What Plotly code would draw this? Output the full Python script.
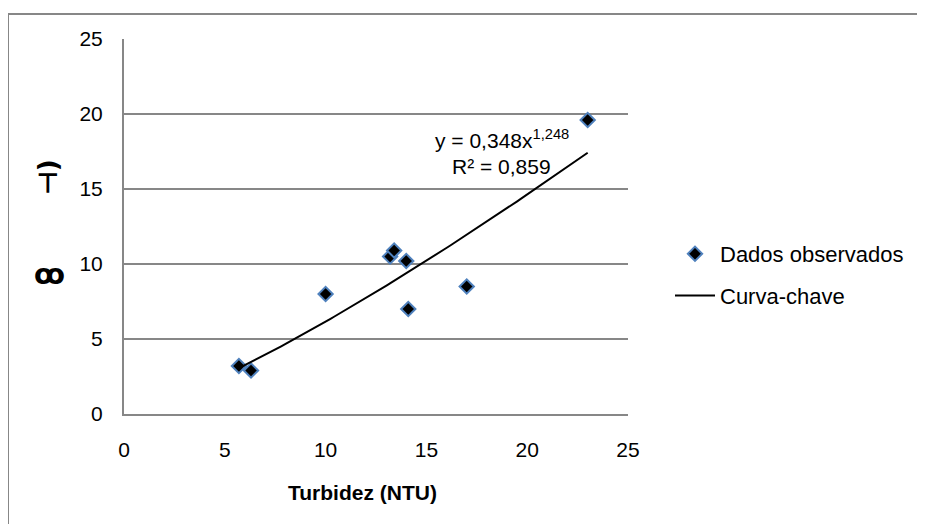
import numpy as np
import plotly.graph_objects as go

# Observed data
turbidez = [5.7, 6.3, 10.0, 13.2, 13.4, 14.0, 14.1, 17.0, 23.0]
observado = [3.2, 2.9, 8.0, 10.5, 10.9, 10.2, 7.0, 8.5, 19.6]

# Power trendline coefficients (from chart label)
coef_a = 0.348
coef_b = 1.248
r2_label = "0,859"

x_ticks = [0, 5, 10, 15, 20, 25]
y_ticks = [0, 5, 10, 15, 20, 25]

xs = np.linspace(min(turbidez), max(turbidez), 100)
ys = coef_a * xs ** coef_b

GRID = "#878787"
FONT = "Liberation Sans, Arial, sans-serif"
OFF = 8  # default page body margin
FW, FH = 925 - OFF, 524 - OFF
# plot area in page pixels
L, R, T, B = 124, 628, 39, 414
W, H = R - L, B - T


def px(x):
    return (x - L) / W


def py(y):
    return (B - y) / H


fig = go.Figure()
fig.add_trace(go.Scatter(
    x=turbidez, y=observado, mode="markers", name="Dados observados",
    legendgroup="a",
    marker=dict(symbol="diamond", size=11, color="black",
                line=dict(color="#4F81BD", width=2)),
))
fig.add_trace(go.Scatter(
    x=xs, y=ys, mode="lines", name="Curva-chave", legendgroup="b",
    line=dict(color="black", width=2),
))

fig.update_layout(
    width=FW, height=FH,
    margin=dict(l=L - OFF, r=FW - (R - OFF), t=T - OFF, b=FH - (B - OFF)),
    paper_bgcolor="white", plot_bgcolor="white",
    font=dict(family=FONT, size=21, color="black"),
    showlegend=True,
    legend=dict(x=px(670), y=py(275), xanchor="left", yanchor="middle",
                font=dict(size=22), itemwidth=40, tracegroupgap=10,
                bgcolor="rgba(0,0,0,0)"),
    xaxis=dict(range=[0, 25], tickvals=x_ticks, showgrid=False,
               showline=True, linecolor=GRID, linewidth=2, ticks="",
               zeroline=False, tickfont=dict(size=21), ticklabelstandoff=16),
    yaxis=dict(range=[0, 25], tickvals=y_ticks, showgrid=True,
               gridcolor=GRID, gridwidth=2, showline=True, linecolor=GRID,
               linewidth=2, ticks="", zeroline=False,
               tickfont=dict(size=21), ticklabelstandoff=15),
    shapes=[
        dict(type="rect", xref="paper", yref="paper",
             x0=px(8), x1=px(950), y0=py(550), y1=py(14),
             line=dict(color=GRID, width=2), fillcolor="rgba(0,0,0,0)",
             layer="below"),
    ],
    annotations=[
        dict(text="<b>Turbidez (NTU)</b>", xref="paper", yref="paper",
             x=px(362), y=py(493), xanchor="center",
             yanchor="middle", showarrow=False, font=dict(size=21)),
        dict(text="y = 0,348x<sup>1,248</sup>", xref="paper", yref="paper",
             x=px(571), y=py(139), xanchor="right",
             yanchor="middle", showarrow=False, font=dict(size=21)),
        dict(text="R² = " + r2_label, xref="paper", yref="paper",
             x=px(553), y=py(166), xanchor="right",
             yanchor="middle", showarrow=False, font=dict(size=21)),
        dict(text="<b>⊣)</b>", xref="paper", yref="paper",
             x=px(48), y=py(177), xanchor="center",
             yanchor="middle", showarrow=False, textangle=-90,
             font=dict(size=26, family="DejaVu Sans")),
        dict(text="<b>ꝏ</b>", xref="paper", yref="paper",
             x=px(49), y=py(274), xanchor="center",
             yanchor="middle", showarrow=False,
             font=dict(size=28, family="DejaVu Sans")),
    ],
)

fig.write_html("out.html")
